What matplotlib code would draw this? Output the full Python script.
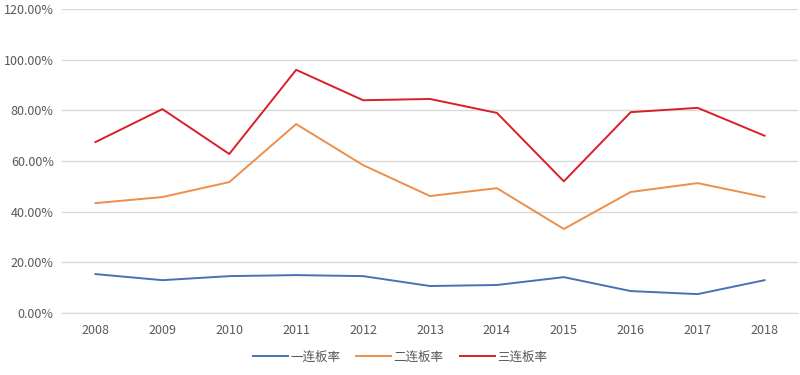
import matplotlib
matplotlib.use("Agg")
import matplotlib.pyplot as plt
from matplotlib.ticker import FuncFormatter

plt.rcParams['font.family'] = ['Noto Sans CJK SC', 'DejaVu Sans']

years = ['2008', '2009', '2010', '2011', '2012', '2013', '2014', '2015', '2016', '2017', '2018']
rate1 = [15.4, 13.0, 14.6, 15.0, 14.6, 10.7, 11.1, 14.2, 8.7, 7.5, 13.0]
rate2 = [43.4, 45.8, 51.7, 74.6, 58.4, 46.2, 49.3, 33.2, 47.8, 51.3, 45.8]
rate3 = [67.5, 80.5, 62.8, 96.0, 84.0, 84.5, 79.0, 52.0, 79.3, 81.0, 70.0]
names = ['一连板率', '二连板率', '三连板率']
colors = ['#4A6FB5', '#ED8F4A', '#DA1F28']

fig = plt.figure(figsize=(8, 3.75), dpi=100)
ax = fig.add_axes([0.0775, 0.165, 0.92, 0.811])
x = list(range(len(years)))
for vals, name, c in zip([rate1, rate2, rate3], names, colors):
    ax.plot(x, vals, color=c, lw=1.4, label=name)

ax.set_xlim(-0.5, len(years) - 0.5)
ax.set_ylim(0, 120)
ax.set_yticks(range(0, 121, 20))
ax.yaxis.set_major_formatter(FuncFormatter(lambda v, p: f'{v:.2f}%'))
ax.set_xticks(x)
ax.set_xticklabels(years)
ax.grid(axis='y', color='#D9D9D9', lw=1)
ax.set_axisbelow(True)
for s in ['top', 'right', 'left']:
    ax.spines[s].set_visible(False)
ax.spines['bottom'].set_color('#D9D9D9')
ax.tick_params(axis='both', length=0, labelsize=9, colors='#595959', pad=8)
ax.tick_params(axis='y', pad=6)

leg = fig.legend(loc='lower center', bbox_to_anchor=(0.5, 0.0), ncol=3, frameon=False,
                 fontsize=9, handlelength=2.8, columnspacing=1.3, handletextpad=0.2)
for t in leg.get_texts():
    t.set_color('#595959')

fig.savefig('out.png', dpi=100)
